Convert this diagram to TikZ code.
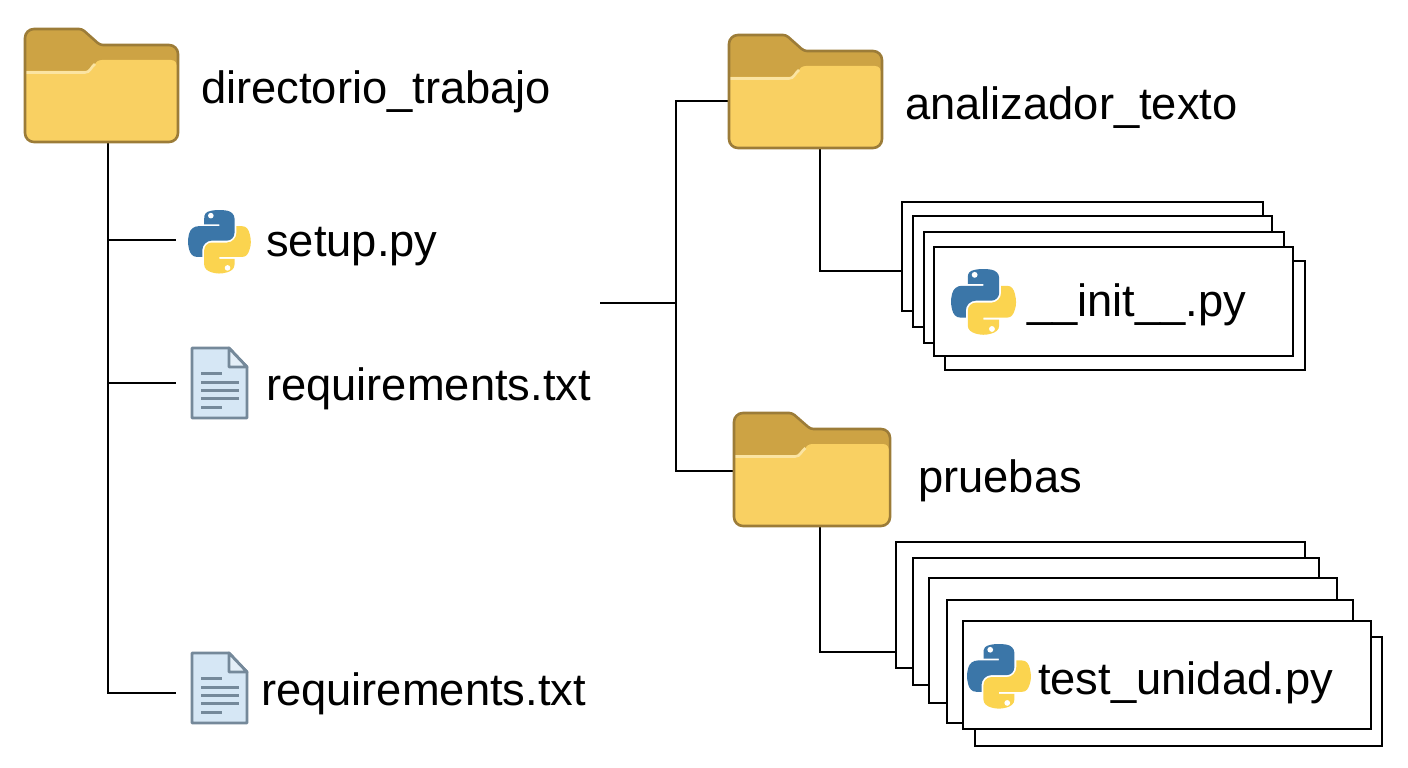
\documentclass[tikz,border=0pt]{standalone}
\usepackage{fontspec}
\setmainfont{Liberation Sans}
\definecolor{FolderBack}{HTML}{CDA344}
\definecolor{FolderFront}{HTML}{F9D062}
\definecolor{FolderLight}{HTML}{FBE4A2}
\definecolor{FolderEdge}{HTML}{9C7C38}
\definecolor{DocFill}{HTML}{D6E7F5}
\definecolor{DocFold}{HTML}{E4EFF8}
\definecolor{DocEdge}{HTML}{75899A}
\definecolor{PyBlue}{HTML}{3B76A8}
\definecolor{PyYellow}{HTML}{FBD44F}

\newcommand{\folderoutline}{(0,113) [rounded corners=9pt] -- (0,0) [rounded corners=3pt] -- (57,0) -- (75,16) [rounded corners=9pt] -- (153,16) -- (153,113) -- cycle}

\tikzset{
	conn/.style={black, line width=2.8pt},
	card/.style={draw=black, fill=white, line width=2.8pt, anchor=north west, inner sep=0pt, outer sep=0pt},
	label/.style={anchor=base west, inner sep=0pt, font=\fontsize{45.3}{54}\selectfont},
	foldericon/.pic={
		\begin{scope}
			\clip \folderoutline;
			\fill[FolderBack] (-1,-1) rectangle (155,115);
			\fill[FolderFront] (-3,116) -- (-3,42) -- (62,42) .. controls (69,42) and (68,31) .. (77,31) -- (146,31) .. controls (150,31) and (152,34) .. (152,38) -- (158,116) -- cycle;
			\draw[FolderLight, line width=2.6pt] (0,43.5) -- (60,43.5) .. controls (65,43.5) and (66,38) .. (70,35);
		\end{scope}
		\draw[FolderEdge, line width=2.6pt] \folderoutline;
	},
	docicon/.pic={
		\draw[DocEdge, fill=DocFill, line width=2.8pt, line join=round] (0,0) -- (37,0) -- (55,19) -- (55,70) -- (0,70) -- cycle;
		\draw[DocEdge, fill=DocFold, line width=2.8pt, line join=round] (37,0) -- (37,19) -- (55,19) -- cycle;
		\foreach \ly/\lx in {25/30, 34/47, 42/47, 50/47, 59/30} {
			\draw[DocEdge, line width=3pt] (9,\ly) -- (\lx,\ly);
		}
	},
	pylogo/.pic={
		\fill[PyBlue] (54.92,0) .. controls (50.34,0.02) and (45.96,0.41) .. (42.11,1.09)
			.. controls (30.76,3.10) and (28.70,7.29) .. (28.70,15.03)
			-- (28.70,25.25) -- (55.51,25.25) -- (55.51,28.66) -- (18.64,28.66)
			.. controls (10.85,28.66) and (4.02,33.34) .. (1.89,42.25)
			.. controls (-0.57,52.46) and (-0.68,58.84) .. (1.89,69.50)
			.. controls (3.79,77.44) and (8.34,83.10) .. (16.13,83.10)
			-- (25.35,83.10) -- (25.35,70.85)
			.. controls (25.35,62) and (33,54.2) .. (42.11,54.2)
			-- (68.89,54.2)
			.. controls (76.35,54.2) and (82.31,48.07) .. (82.31,40.59)
			-- (82.31,15.03)
			.. controls (82.31,7.76) and (76.18,2.30) .. (68.89,1.09)
			.. controls (64.27,0.32) and (59.5,-0.02) .. (54.92,0) -- cycle;
		\fill[PyYellow] (85.64,28.66) -- (85.64,40.57)
			.. controls (85.64,49.8) and (77.82,57.57) .. (68.9,57.57)
			-- (42.09,57.57)
			.. controls (34.75,57.57) and (28.67,63.85) .. (28.67,71.2)
			-- (28.67,96.75)
			.. controls (28.67,104.02) and (34.99,108.3) .. (42.09,110.39)
			.. controls (50.59,112.89) and (58.74,113.34) .. (68.9,110.39)
			.. controls (75.66,108.43) and (82.32,104.5) .. (82.32,96.75)
			-- (82.32,86.53) -- (55.51,86.53) -- (55.51,83.12) -- (95.74,83.12)
			.. controls (103.54,83.12) and (106.45,77.68) .. (109.16,69.52)
			.. controls (111.96,61.12) and (111.84,53.04) .. (109.16,42.25)
			.. controls (107.24,34.49) and (103.56,28.66) .. (95.74,28.66) -- cycle;
		\fill[white] (40.4,10) circle (5);
		\fill[white] (70,102.5) circle (5);
	},
}

\begin{document}
\begin{tikzpicture}[x=1pt,y=1pt,yscale=-1,xscale=1,every pic/.style={yscale=-1}]
	\useasboundingbox (0,0) rectangle (1408,768);

	% Left tree
	\coordinate (dirhook) at (108,142);
	\coordinate (setupport) at (176,240);
	\coordinate (reqport) at (176,383);
	\coordinate (reqbport) at (176,693);
	\draw[conn] (dirhook) |- (reqbport);
	\draw[conn] (dirhook) |- (setupport);
	\draw[conn] (dirhook) |- (reqport);

	% Right tree
	\coordinate (busstart) at (600,303);
	\coordinate (busjoint) at (676,303);
	\coordinate (anaport) at (729,101);
	\coordinate (pruport) at (734,471);
	\coordinate (anahook) at (820,148);
	\coordinate (pruhook) at (820,527);
	\coordinate (initport) at (902,271);
	\coordinate (testport) at (896,652);
	\draw[conn] (busstart) -- (busjoint);
	\draw[conn] (busjoint) |- (anaport);
	\draw[conn] (busjoint) |- (pruport);
	\draw[conn] (anahook) |- (initport);
	\draw[conn] (pruhook) |- (testport);

	% Folders
	\pic at (25,29) {foldericon};
	\pic at (729,35) {foldericon};
	\pic[xscale=1.02] at (734,413) {foldericon};

	% Stack of __init__.py
	\node[card, minimum width=361pt, minimum height=109pt] (initA) at (902,202) {};
	\node[card, minimum width=359pt, minimum height=111pt] (initB) at (913,216) {};
	\node[card, minimum width=360pt, minimum height=111pt] (initC) at (924,232) {};
	\node[card, minimum width=360pt, minimum height=109pt] (initD) at (945,261) {};
	\node[card, minimum width=359pt, minimum height=109pt] (initE) at (934,247) {};

	% Stack of test_unidad.py
	\node[card, minimum width=409pt, minimum height=126pt] (testA) at (896,542) {};
	\node[card, minimum width=406pt, minimum height=127pt] (testB) at (913,558) {};
	\node[card, minimum width=408pt, minimum height=125pt] (testC) at (929,578) {};
	\node[card, minimum width=406pt, minimum height=123pt] (testD) at (947,600) {};
	\node[card, minimum width=407pt, minimum height=109pt] (testF) at (975,637) {};
	\node[card, minimum width=408pt, minimum height=108pt] (testE) at (963,621) {};

	% Icons
	\pic[scale=0.565] at (188,210) {pylogo};
	\pic[scale=0.585] at (951,269) {pylogo};
	\pic[scale=0.575] at (967,644) {pylogo};
	\pic at (192,348) {docicon};
	\pic at (192,653) {docicon};

	% Labels
	\node[label] (dirlabel) at (201,103) {directorio\_trabajo};
	\node[label] (setuplabel) at (266,256) {setup.py};
	\node[label] (reqlabel) at (266,400) {requirements.txt};
	\node[label] (reqblabel) at (261,705) {requirements.txt};
	\node[label] (analabel) at (905,119) {analizador\_texto};
	\node[label] (prulabel) at (918,492) {pruebas};
	\node[label] (initlabel) at (1027,316) {\_\_init\_\_.py};
	\node[label] (testlabel) at (1038,694) {test\_unidad.py};
\end{tikzpicture}
\end{document}
